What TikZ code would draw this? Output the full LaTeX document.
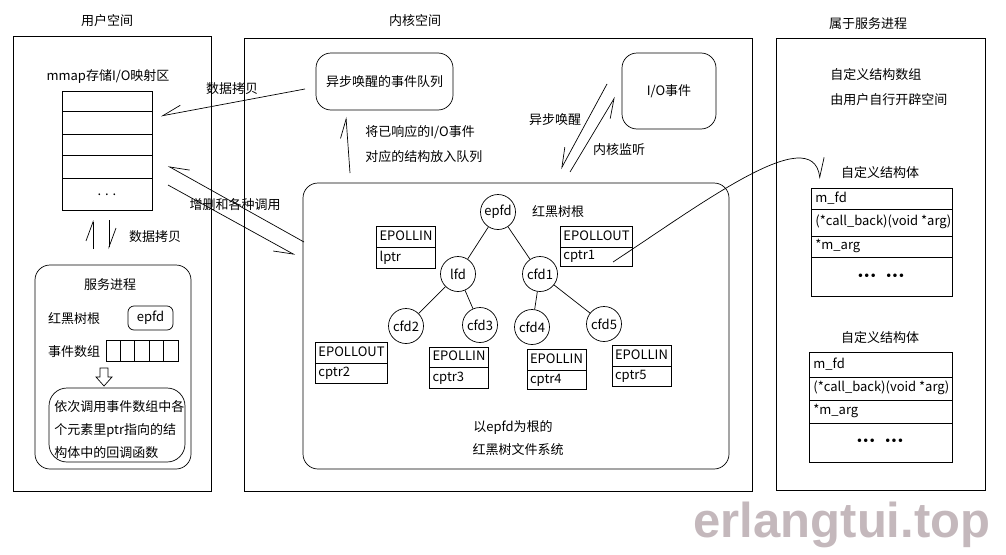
\documentclass[tikz,border=0pt]{standalone}
\usepackage{fontspec}
\setmainfont{Noto Sans CJK SC}
\newfontfamily\wmfont{Liberation Sans}
\newfontfamily\dotfont{DejaVu Sans}
\usetikzlibrary{arrows.meta,shapes.multipart}
\definecolor{wmfill}{RGB}{196,184,188}
\begin{document}
\begin{tikzpicture}[x=1pt,y=-1pt,line width=0.7pt,font=\fontsize{13}{15}\selectfont]
    \tikzstyle{vertex}=[circle, draw, minimum size=35pt, inner sep=0pt]
    \tikzstyle{panel}=[draw, inner sep=0pt]
    \tikzstyle{rbox}=[draw, rounded corners=15pt, inner sep=0pt]
    \tikzstyle{rec}=[draw, rectangle split, rectangle split parts=2, rectangle split part align=left, inner xsep=3pt, inner ysep=3.5pt, text height=10pt, text depth=3pt]
    \tikzstyle{lbl}=[inner sep=0pt]
    \tikzstyle{more}=[inner sep=0pt, font=\dotfont\bfseries\fontsize{10}{12}\selectfont]
    \tikzstyle{hl}=[-{Straight Barb[harpoon,length=19pt,width=14pt]}]
    \tikzstyle{hr}=[-{Straight Barb[harpoon,swap,length=19pt,width=14pt]}]
    \tikzstyle{wm}=[inner sep=0pt, wmfill, font=\wmfont\bfseries\fontsize{49}{50}\selectfont]
    \useasboundingbox (0,0) rectangle (1006,554);
    \node[lbl] (tuser) at (107,21) {用户空间};
    \node[lbl] (tkern) at (415,21) {内核空间};
    \node[lbl] (tsrv) at (868,24) {属于服务进程};
    \node[panel, minimum width=198pt, minimum height=455pt] (user) at (112,263.5) {};
    \node[panel, minimum width=508pt, minimum height=453pt] (kern) at (498,264.5) {};
    \node[panel, minimum width=209pt, minimum height=452pt] (srv) at (880.5,264) {};
    \node[lbl] (mmaplbl) at (108,77) {mmap存储I/O映射区};
    \node[panel, minimum width=90pt, minimum height=119pt] (mmap) at (107,150.5) {};
    \draw (62,111) -- (152,111) (62,134) -- (152,134) (62,155) -- (152,155) (62,178) -- (152,178);
    \node[lbl] (dots) at (107,195) {. . .};
    \coordinate (cpyup1) at (93,249);
    \coordinate (cpyup2) at (93,220);
    \coordinate (cpydn1) at (109,220);
    \coordinate (cpydn2) at (109,249);
    \draw[hl] (cpyup1) -- (cpyup2);
    \draw[hl] (cpydn1) -- (cpydn2);
    \node[lbl] (cpylbl) at (155,237) {数据拷贝};
    \node[rbox, minimum width=156pt, minimum height=204pt] (svc) at (113,367) {};
    \node[lbl] (svclbl) at (110,285) {服务进程};
    \node[lbl] (rootlbl) at (74,319) {红黑树根};
    \node[draw, rounded corners=6pt, minimum width=45pt, minimum height=24pt, inner sep=0pt] (uepfd) at (150.5,318) {epfd};
    \node[lbl] (evlbl) at (74,352) {事件数组};
    \node[panel, minimum width=72pt, minimum height=21pt] (evarr) at (142,350.5) {};
    \draw (120.4,340) -- (120.4,361) (134.8,340) -- (134.8,361) (149.2,340) -- (149.2,361) (163.6,340) -- (163.6,361);
    \draw (100,368) -- (108,368) -- (108,377) -- (112,377) -- (104,386) -- (96,377) -- (100,377) -- cycle;
    \node[rbox, rounded corners=18pt, minimum width=136pt, minimum height=74pt] (cbk) at (117,425) {};
    \node[lbl, anchor=west] (cbk1) at (54,407) {依次调用事件数组中各};
    \node[lbl, anchor=west] (cbk2) at (54,430) {个元素里ptr指向的结};
    \node[lbl, anchor=west] (cbk3) at (54,453) {构体中的回调函数};
    \node[rbox, minimum width=137pt, minimum height=57pt] (evq) at (384.5,81.5) {异步唤醒的事件队列};
    \node[rbox, minimum width=94pt, minimum height=76pt] (ioev) at (669,91) {I/O事件};
    \node[rbox, minimum width=426pt, minimum height=286pt] (rbt) at (516,326) {};
    \coordinate (qout) at (305,89);
    \coordinate (qin) at (161,116);
    \draw[hr] (qout) -- (qin);
    \node[lbl] (qlbl) at (232,89) {数据拷贝};
    \coordinate (ctl1) at (304,242);
    \coordinate (ctl2) at (168,166);
    \coordinate (ctl3) at (168,185);
    \coordinate (ctl4) at (295,255);
    \draw[hr] (ctl1) -- (ctl2);
    \draw[hr] (ctl3) -- (ctl4);
    \node[lbl] (ctllbl) at (235,205) {增删和各种调用};
    \coordinate (put1) at (350,173);
    \coordinate (put2) at (346,117);
    \draw[hl] (put1) -- (put2);
    \node[lbl, anchor=west] (putlbl1) at (365,132) {将已响应的I/O事件};
    \node[lbl, anchor=west] (putlbl2) at (365,157) {对应的结构放入队列};
    \coordinate (wake1) at (607,84);
    \coordinate (wake2) at (561,169);
    \coordinate (lsn1) at (570,172);
    \coordinate (lsn2) at (615,97);
    \draw[hr] (wake1) -- (wake2);
    \draw[hr] (lsn1) -- (lsn2);
    \node[lbl] (wakelbl) at (555,120) {异步唤醒};
    \node[lbl] (lsnlbl) at (619,150) {内核监听};
    \node[vertex] (epfd) at (498,212) {epfd};
    \node[vertex] (lfd) at (458,274) {lfd};
    \node[vertex] (cfd1) at (540,274) {cfd1};
    \node[vertex] (cfd2) at (406,326) {cfd2};
    \node[vertex] (cfd3) at (480,325) {cfd3};
    \node[vertex] (cfd4) at (532,327) {cfd4};
    \node[vertex] (cfd5) at (604,324) {cfd5};
    \draw (epfd)--(lfd)--(cfd2);
    \draw (lfd)--(cfd3);
    \draw (epfd)--(cfd1)--(cfd4);
    \draw (cfd1)--(cfd5);
    \node[lbl] (rbtroot) at (558,212) {红黑树根};
    \node[rec] (lptr) at (406,247.5) {EPOLLIN \nodepart{two} lptr};
    \node[rec] (cptr1) at (596.5,246.5) {EPOLLOUT \nodepart{two} cptr1};
    \node[rec] (cptr2) at (351.5,363) {EPOLLOUT \nodepart{two} cptr2};
    \node[rec] (cptr3) at (459,367.5) {EPOLLIN \nodepart{two} cptr3};
    \node[rec] (cptr4) at (556.5,369.5) {EPOLLIN \nodepart{two} cptr4};
    \node[rec] (cptr5) at (641.5,366) {EPOLLIN \nodepart{two} cptr5};
    \node[lbl] (rbtlbl1) at (513,427) {以epfd为根的};
    \node[lbl] (rbtlbl2) at (518,450) {红黑树文件系统};
    \node[lbl, anchor=west] (arrlbl1) at (830,75) {自定义结构数组};
    \node[lbl, anchor=west] (arrlbl2) at (830,100) {由用户自行开辟空间};
    \node[lbl] (st1lbl) at (880,173) {自定义结构体};
    \node[panel, minimum width=141pt, minimum height=108pt] (st1) at (881.5,242) {};
    \draw (811,209) -- (952,209) (811,236) -- (952,236) (811,257) -- (952,257);
    \node[lbl, anchor=west] (st1fd) at (815,198) {m\_fd};
    \node[lbl, anchor=west] (st1cb) at (815,222) {(*call\_back)(void *arg)};
    \node[lbl, anchor=west] (st1arg) at (815,246) {*m\_arg};
    \node[more] (st1dots) at (881,277) {•••\hspace{9pt}•••};
    \node[lbl] (st2lbl) at (880,338) {自定义结构体};
    \node[panel, minimum width=143pt, minimum height=110pt] (st2) at (880.5,407) {};
    \draw (809,377) -- (952,377) (809,400) -- (952,400) (809,423) -- (952,423);
    \node[lbl, anchor=west] (st2fd) at (813,364) {m\_fd};
    \node[lbl, anchor=west] (st2cb) at (813,388) {(*call\_back)(void *arg)};
    \node[lbl, anchor=west] (st2arg) at (813,411) {*m\_arg};
    \node[more] (st2dots) at (880,442) {•••\hspace{9pt}•••};
    \coordinate (cb1) at (613,262);
    \coordinate (cb2) at (820,179);
    \draw[hl] (cb1) .. controls (700,205) and (812,120) .. (cb2);
    \node[wm] (wmark) at (842,525) {erlangtui.top};
\end{tikzpicture}
\end{document}
